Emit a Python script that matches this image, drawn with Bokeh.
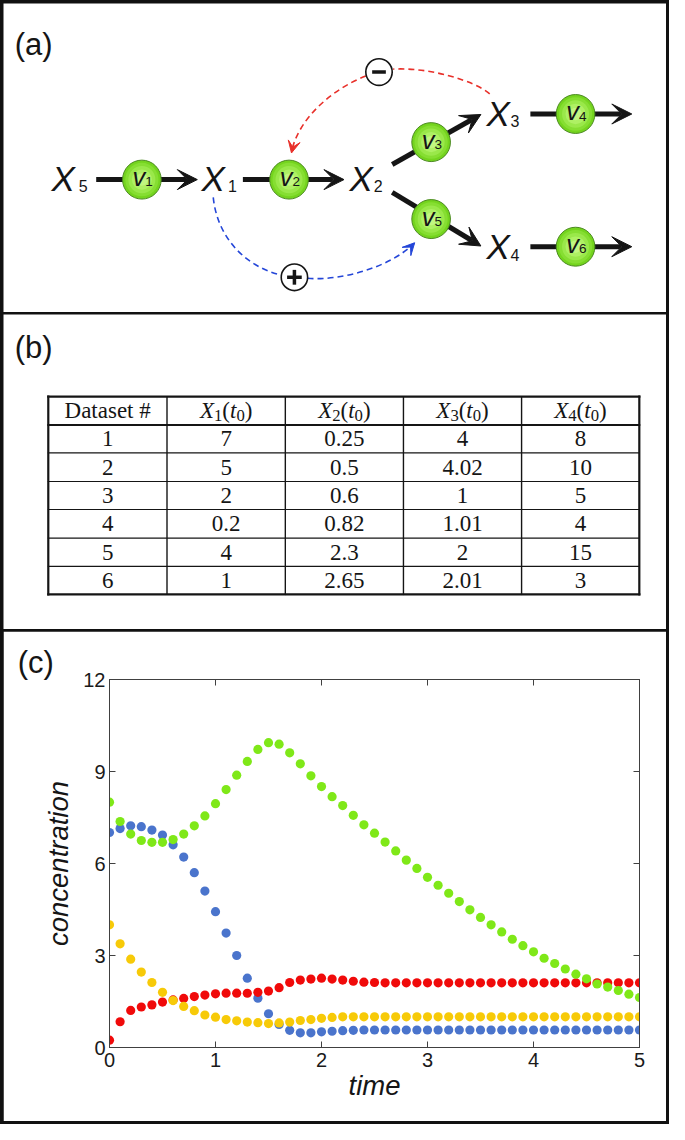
from bokeh.plotting import figure
from bokeh.models import Range1d, Arrow, VeeHead, FixedTicker, LinearAxis
from bokeh.layouts import column
from bokeh.core.properties import value
from bokeh.embed import file_html
from bokeh.resources import INLINE

# ====================== DATA ======================
# panel (c): simulated time courses
time = [0.0, 0.1, 0.2, 0.3, 0.4, 0.5, 0.6, 0.7, 0.8, 0.9,
        1.0, 1.1, 1.2, 1.3, 1.4, 1.5, 1.6, 1.7, 1.8, 1.9,
        2.0, 2.1, 2.2, 2.3, 2.4, 2.5, 2.6, 2.7, 2.8, 2.9,
        3.0, 3.1, 3.2, 3.3, 3.4, 3.5, 3.6, 3.7, 3.8, 3.9,
        4.0, 4.1, 4.2, 4.3, 4.4, 4.5, 4.6, 4.7, 4.8, 4.9, 5.0]
x1_blue = [7.01, 7.14, 7.23, 7.20, 7.09, 6.93, 6.61, 6.21, 5.70, 5.10,
           4.43, 3.73, 3.00, 2.26, 1.61, 1.10, 0.75, 0.56, 0.48, 0.48,
           0.51, 0.53, 0.55, 0.56, 0.57, 0.57, 0.57, 0.57, 0.57, 0.57,
           0.57, 0.57, 0.57, 0.57, 0.57, 0.57, 0.57, 0.57, 0.57, 0.57,
           0.57, 0.57, 0.57, 0.57, 0.57, 0.57, 0.57, 0.57, 0.57, 0.57, 0.57]
x2_red = [0.24, 0.84, 1.21, 1.32, 1.39, 1.48, 1.55, 1.60, 1.66, 1.71,
          1.75, 1.77, 1.77, 1.77, 1.80, 1.84, 1.95, 2.12, 2.20, 2.23,
          2.26, 2.23, 2.20, 2.16, 2.13, 2.12, 2.11, 2.11, 2.11, 2.11,
          2.11, 2.11, 2.11, 2.11, 2.11, 2.11, 2.11, 2.11, 2.11, 2.11,
          2.11, 2.11, 2.11, 2.11, 2.11, 2.11, 2.11, 2.11, 2.11, 2.11, 2.11]
x3_yellow = [4.00, 3.38, 2.88, 2.46, 2.12, 1.80, 1.53, 1.34, 1.20, 1.06,
             0.99, 0.91, 0.87, 0.83, 0.81, 0.78, 0.80, 0.83, 0.88, 0.91,
             0.95, 0.98, 1.00, 1.00, 1.00, 1.00, 1.00, 1.00, 1.00, 1.00,
             1.00, 1.00, 1.00, 1.00, 1.00, 1.00, 1.00, 1.00, 1.00, 1.00,
             1.00, 1.00, 1.00, 1.00, 1.00, 1.00, 1.00, 1.00, 1.00, 1.00, 1.00]
x4_green = [8.00, 7.37, 6.96, 6.75, 6.69, 6.69, 6.78, 6.96, 7.23, 7.55,
            7.95, 8.41, 8.88, 9.33, 9.72, 9.94, 9.89, 9.61, 9.25, 8.86,
            8.51, 8.18, 7.89, 7.57, 7.26, 6.99, 6.70, 6.41, 6.11, 5.84,
            5.55, 5.29, 5.03, 4.76, 4.49, 4.24, 4.00, 3.77, 3.53, 3.32,
            3.12, 2.91, 2.74, 2.56, 2.39, 2.24, 2.07, 1.97, 1.86, 1.74, 1.63]
x_ticks = [0, 1, 2, 3, 4, 5]
y_ticks = [0, 3, 6, 9, 12]

# panel (b): initial conditions table
dataset_ids = ["1", "2", "3", "4", "5", "6"]
x1_t0 = ["7", "5", "2", "0.2", "4", "1"]
x2_t0 = ["0.25", "0.5", "0.6", "0.82", "2.3", "2.65"]
x3_t0 = ["4", "4.02", "1", "1.01", "2", "2.01"]
x4_t0 = ["8", "10", "5", "4", "15", "3"]
first_header = "Dataset #"
header_species = ["1", "2", "3", "4"]

# panel (a): network labels
species_sub = ["5", "1", "2", "3", "4"]
reaction_sub = ["1", "2", "3", "4", "5", "6"]
panel_tags = ["(a)", "(b)", "(c)"]

# ====================== LAYOUT ======================
W, H = 669, 1124
BORDER, SEP = 3, 2
IW = W - 2 * BORDER
HA, HB, HC = 309, 315, 490
SANS = value("Liberation Sans")
SERIF = value("Liberation Serif")
INK = "#151515"
MID = 0.35   # baseline -> visual middle, in em


def mid(baseline, size):
    return baseline - MID * size


def blank(h, yr):
    p = figure(width=IW, height=h, x_range=Range1d(3.5, 681.5), y_range=Range1d(*yr),
               x_axis_type=None, y_axis_type=None, output_backend="svg",
               toolbar_location=None, min_border=0)
    p.min_border_left = p.min_border_right = p.min_border_top = p.min_border_bottom = 0
    p.frame_align = False
    p.outline_line_color = None
    p.background_fill_color = "white"
    p.border_fill_color = "white"
    return p

# ---------------- panel (a): the network ----------------
fa = blank(HA, (316.7, 3.5))
fa.text(x=[15], y=[mid(56, 32)], text=[panel_tags[0]], text_font=SANS,
        text_font_size=value("31px"), text_baseline="middle", text_color=INK)

# flux arrows (start -> tip), in pixels of the original picture
flux_x0 = [98.3, 248.3, 401.0, 401.0, 542.3, 542.3]
flux_y0 = [182.0, 182.0, 166.7, 195.0, 115.5, 250.0]
flux_x1 = [201.7, 351.7, 491.7, 491.7, 646.0, 646.0]
flux_y1 = [182.0, 182.0, 116.0, 249.3, 115.5, 250.0]
for xs, ys, xe, ye in zip(flux_x0, flux_y0, flux_x1, flux_y1):
    fa.add_layout(Arrow(x_start=xs, y_start=ys, x_end=xe, y_end=ye, line_width=5,
                        line_color=INK, level="underlay",
                        end=VeeHead(size=20, fill_color=INK, line_color=INK, line_width=1)))

# dashed regulation arcs (cubic Bezier)
reg_colors = ["#e8302a", "#e8302a", "#2446d8", "#2446d8"]
fa.bezier(x0=[500.7, 374.0, 218.0, 314.5], y0=[95.0, 77.0, 200.0, 282.0],
          x1=[402.0, 298.0, 288.0, 423.5], y1=[70.0, 154.0, 279.0, 246.5],
          cx0=[485.0, 340.0, 222.0, 350.0], cy0=[82.0, 90.0, 240.0, 285.0],
          cx1=[440.0, 305.0, 250.0, 400.0], cy1=[68.0, 120.0, 270.0, 270.0],
          line_color=reg_colors, line_width=1.6, line_dash="6 4")
fa.add_layout(Arrow(x_start=303.0, y_start=133.0, x_end=298.0, y_end=155.0, line_alpha=0,
                    end=VeeHead(size=12, fill_color="#e8302a", line_color="#e8302a", line_width=1)))
fa.add_layout(Arrow(x_start=405.0, y_start=266.0, x_end=424.0, y_end=246.0, line_alpha=0,
                    end=VeeHead(size=12, fill_color="#2446d8", line_color="#2446d8", line_width=1)))

# sign circles
sign_x = [387.5, 301.0]
sign_y = [73.0, 281.0]
fa.ellipse(x=sign_x, y=sign_y, width=27, height=27, fill_color="white",
           line_color=INK, line_width=1.6)
fa.segment(x0=[380.5, 293.5, 301.0], y0=[73.0, 281.0, 273.5],
           x1=[394.5, 308.5, 301.0], y1=[73.0, 281.0, 288.5],
           line_color=INK, line_width=3.5)

# reaction circles with a radial shading
rx = [145.0, 295.5, 440.8, 588.5, 440.8, 588.5]
ry = [182.0, 182.0, 144.0, 115.5, 222.0, 250.0]
shades = [(1.00, "#74d41e"), (0.86, "#86de32"), (0.70, "#9ae84a"),
          (0.52, "#aef064"), (0.32, "#c2f681")]
for k, (f, col) in enumerate(shades):
    fa.ellipse(x=rx, y=ry, width=39.5 * f, height=39.5 * f, fill_color=col,
               line_color="#4c8a22" if k == 0 else None, line_width=1)
fa.text(x=[c - 9.5 for c in rx], y=[mid(c + 6.5, 26) for c in ry], text=["v"] * len(rx),
        text_font=SANS, text_font_size=value("25.5px"), text_font_style="italic",
        text_baseline="middle", text_color=INK)
fa.text(x=[c + 3.5 for c in rx], y=[mid(c + 7, 13.5) for c in ry], text=reaction_sub,
        text_font=SANS, text_font_size=value("13.5px"), text_baseline="middle",
        text_color=INK)

# species labels
sx = [52.5, 206.0, 357.3, 497.3, 497.3]
sy = [193.0, 193.0, 193.0, 127.3, 262.7]
ssub = [80.5, 233.0, 382.0, 522.0, 522.0]
fa.text(x=sx, y=[mid(b, 36) for b in sy], text=["X"] * len(sx), text_font=SANS,
        text_font_size=value("35px"), text_font_style="italic", text_baseline="middle",
        text_color=INK)
fa.text(x=ssub, y=[mid(b + 1, 16) for b in sy], text=species_sub, text_font=SANS,
        text_font_size=value("16px"), text_baseline="middle", text_color=INK)

# ---------------- panel (b): the table ----------------
fb = blank(HB, (638.3, 319.0))
fb.text(x=[15], y=[mid(364, 32)], text=[panel_tags[1]], text_font=SANS,
        text_font_size=value("31px"), text_baseline="middle", text_color=INK)

hy = [402.3, 431.0, 459.3, 488.3, 516.7, 545.7, 574.3, 602.7]
vx = [49.3, 170.7, 291.7, 412.5, 533.3, 653.7]
hw = [2.2, 2.0, 1.1, 1.1, 1.1, 1.1, 1.1, 2.2]
vw = [2.2, 1.4, 1.4, 1.4, 1.4, 2.2]
fb.segment(x0=[vx[0]] * len(hy), x1=[vx[-1]] * len(hy), y0=hy, y1=hy,
           line_width=hw, line_color=INK, line_cap="square")
fb.segment(x0=vx, x1=vx, y0=[hy[0]] * len(vx), y1=[hy[-1]] * len(vx),
           line_width=vw, line_color=INK, line_cap="square")

col_c = [(vx[i] + vx[i + 1]) / 2 for i in range(len(vx) - 1)]
row_c = [(hy[i] + hy[i + 1]) / 2 for i in range(len(hy) - 1)]
body_cols = [dataset_ids, x1_t0, x2_t0, x3_t0, x4_t0]
bx, by, bt = [], [], []
for ci, colvals in enumerate(body_cols):
    for ri, v in enumerate(colvals):
        bx.append(col_c[ci]); by.append(mid(row_c[ri + 1] + 8, 23)); bt.append(v)
fb.text(x=bx, y=by, text=bt, text_font=SERIF, text_font_size=value("23px"),
        text_align="center", text_baseline="middle", text_color=INK)
fb.text(x=[col_c[0]], y=[mid(row_c[0] + 8, 23)], text=[first_header], text_font=SERIF,
        text_font_size=value("23px"), text_align="center", text_baseline="middle",
        text_color=INK)

# header "X_k(t_0)" built from pieces (Times metrics)
groups = {}
for k, s in enumerate(header_species):
    pieces = [("X", "italic", 23.5, 0, 0.611), (s, "normal", 17, 3, 0.5),
              ("(", "normal", 23.5, 0, 0.333), ("t", "italic", 23.5, 0, 0.278),
              ("0", "normal", 17, 3, 0.5), (")", "normal", 23.5, 0, 0.333)]
    total = sum(sz * em for _, _, sz, _, em in pieces)
    x = col_c[k + 1] - total / 2
    for txt, style, sz, dy, em in pieces:
        g = groups.setdefault((style, sz), ([], [], []))
        g[0].append(x); g[1].append(mid(row_c[0] + 8 + dy, sz)); g[2].append(txt)
        x += sz * em
for (style, sz), (gx, gy, gt) in groups.items():
    fb.text(x=gx, y=gy, text=gt, text_font=SERIF, text_font_size=value(f"{sz * 0.98:.1f}px"),
            text_font_style=style, text_baseline="middle", text_color=INK)

# ---------------- panel (c): the time courses ----------------
ML, MR, MT, MB = 106, 27, 48, 74
FW, FH = IW - ML - MR, HC - MT - MB
fc = figure(width=IW, height=HC, x_range=Range1d(0, 5), y_range=Range1d(0, 12),
            output_backend="svg", toolbar_location=None, title=panel_tags[2],
            min_border_left=ML, min_border_right=MR, min_border_top=MT, min_border_bottom=MB)
fc.frame_align = False
fc.grid.visible = False
fc.background_fill_color = "white"
fc.border_fill_color = "white"
fc.outline_line_color = "#404040"
fc.outline_line_width = 1
fc.title.text_font = "Liberation Sans"
fc.title.text_font_size = "31px"
fc.title.text_font_style = "normal"
fc.title.text_color = INK
fc.title.align = "left"
fc.title.offset = 14.2 - (BORDER + ML) + BORDER
fc.title.standoff = 0

AX = "#404040"
fc.xaxis.ticker = FixedTicker(ticks=x_ticks)
fc.yaxis.ticker = FixedTicker(ticks=y_ticks)
fc.xaxis.axis_label = "time"
fc.yaxis.axis_label = "concentration"
for ax in (fc.xaxis[0], fc.yaxis[0]):
    ax.axis_line_color = AX
    ax.major_tick_line_color = AX
    ax.major_tick_in = 6
    ax.major_tick_out = 0
    ax.minor_tick_line_color = None
    ax.major_label_text_font = "Liberation Sans"
    ax.major_label_text_font_size = "20px"
    ax.major_label_text_color = "#1a1a1a"
    ax.axis_label_text_font = "Liberation Sans"
    ax.axis_label_text_font_size = "27.5px"
    ax.axis_label_text_font_style = "italic"
    ax.axis_label_text_color = INK
fc.xaxis.major_label_standoff = 5
fc.xaxis.axis_label_standoff = 0
fc.yaxis.major_label_standoff = 4
fc.yaxis.axis_label_standoff = 6
for loc, ticks in (("above", x_ticks), ("right", y_ticks)):
    fc.add_layout(LinearAxis(ticker=FixedTicker(ticks=ticks), major_label_text_font_size="1px",
                             major_label_text_color=None, major_tick_in=6, major_tick_out=0,
                             minor_tick_line_color=None, axis_line_color=AX,
                             major_tick_line_color=AX, major_label_standoff=0), loc)

series = [(x1_blue, "#4a74cc"), (x2_red, "#f00a0a"), (x3_yellow, "#f7ca08"), (x4_green, "#7fe818")]
for ys, col in series:
    fc.scatter(time, ys, size=9.2, fill_color=col, line_color=None)

fa.margin = (BORDER, BORDER, SEP, BORDER)
fb.margin = (0, BORDER, SEP, BORDER)
fc.margin = (0, BORDER, BORDER, BORDER)
root = column(fa, fb, fc, spacing=0, styles={"background-color": "#111111"})

open("out.html", "w").write(file_html(root, INLINE))
